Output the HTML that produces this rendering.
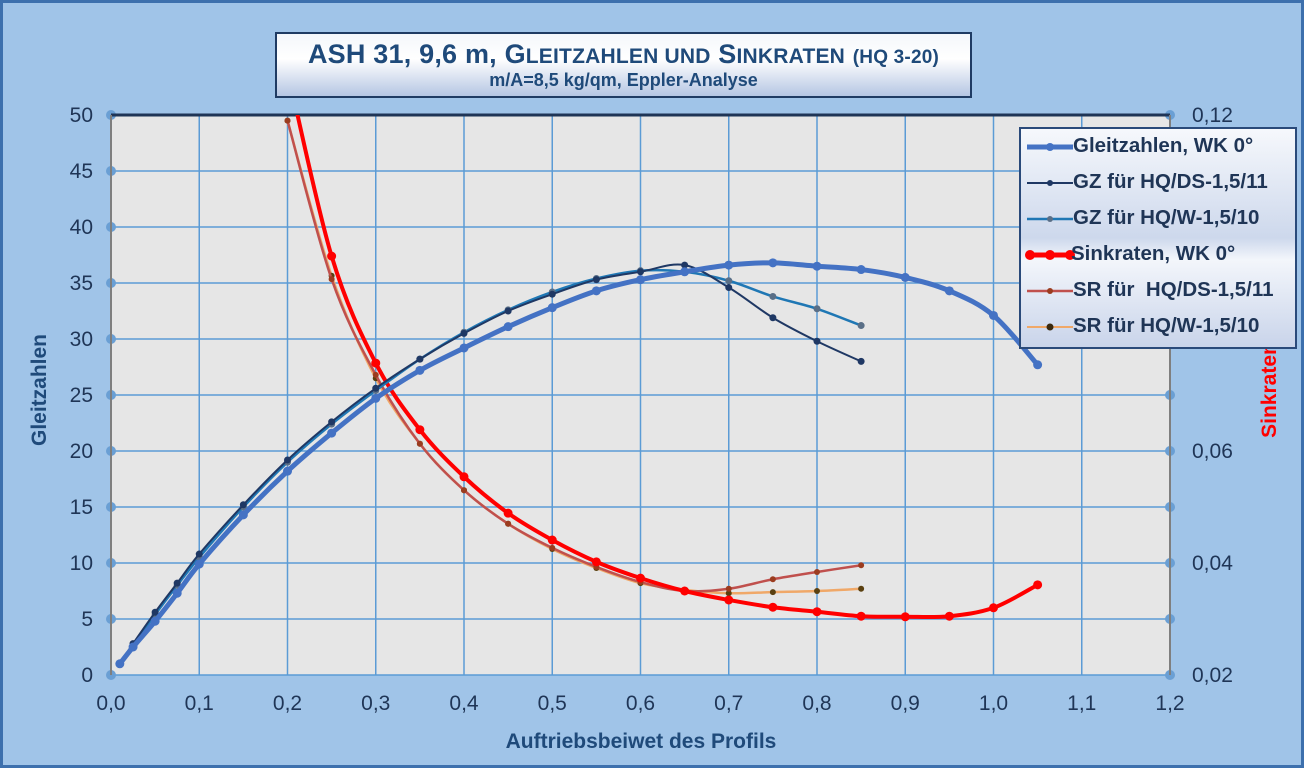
<!DOCTYPE html>
<html><head><meta charset="utf-8">
<style>
html,body{margin:0;padding:0;}
body{width:1304px;height:768px;overflow:hidden;background:#9fc3e7;font-family:"Liberation Sans",Arial,sans-serif;}
#frame{position:absolute;left:0;top:0;width:1298px;height:762px;border:3px solid #3d70ad;background:#a0c4e8;}
#title{position:absolute;left:275px;top:32px;width:693px;height:62px;border:2px solid #1f3b63;background:linear-gradient(#f4f7fb,#ffffff 40%,#b5c6e3);text-align:center;color:#1f4a7a;font-weight:bold;}
#legend{position:absolute;left:1019px;top:127px;width:274px;height:218px;border:2px solid #2a4a7a;background:linear-gradient(#f6f8fc,#cdd8ec 50%,#f3f6fb 60%,#c9d4ea);}
.li{position:absolute;left:0;height:36px;width:274px;}
.li span{position:absolute;left:52px;top:5px;font-size:20.5px;font-weight:bold;color:#1f3556;white-space:nowrap;}
</style></head><body>
<div id="frame"></div>
<div id="title">
<div style="font-size:27px;margin-top:5px;letter-spacing:0.2px;">ASH 31, 9,6 m, G<span style="font-size:21px">LEITZAHLEN UND</span> S<span style="font-size:21px">INKRATEN</span> <span style="font-size:19px">(HQ 3-20)</span></div>
<div style="font-size:18px;margin-top:0px;">m/A=8,5 kg/qm, Eppler-Analyse</div>
</div>
<svg id="chart" width="1304" height="768" style="position:absolute;left:0;top:0"></svg>
<div id="legend">
<svg width="274" height="218" style="position:absolute;left:0;top:0">
<line x1="6" y1="18" x2="52" y2="18" stroke="#4472c4" stroke-width="5"/><circle cx="29" cy="18" r="4" fill="#4472c4"/>
<line x1="6" y1="54" x2="52" y2="54" stroke="#1f3864" stroke-width="2"/><circle cx="29" cy="54" r="3" fill="#1f3864"/>
<line x1="6" y1="90" x2="52" y2="90" stroke="#1f77b4" stroke-width="2.5"/><circle cx="29" cy="90" r="3" fill="#5a6f87"/>
<line x1="6" y1="126" x2="52" y2="126" stroke="#ff0000" stroke-width="5"/><circle cx="9" cy="126" r="5" fill="#f00"/><circle cx="29" cy="126" r="5" fill="#f00"/><circle cx="49" cy="126" r="5" fill="#f00"/>
<line x1="6" y1="162" x2="52" y2="162" stroke="#c0504d" stroke-width="2.5"/><circle cx="29" cy="162" r="3" fill="#9b3c1f"/>
<line x1="6" y1="198" x2="52" y2="198" stroke="#f0a868" stroke-width="2"/><circle cx="29" cy="198" r="3.5" fill="#3a2a10"/>
</svg>
<div class="li" style="top:0"><span>Gleitzahlen, WK 0°</span></div>
<div class="li" style="top:36px"><span>GZ für HQ/DS-1,5/11</span></div>
<div class="li" style="top:72px"><span>GZ für HQ/W-1,5/10</span></div>
<div class="li" style="top:108px"><span style="left:50px">Sinkraten, WK 0°</span></div>
<div class="li" style="top:144px"><span>SR für &nbsp;HQ/DS-1,5/11</span></div>
<div class="li" style="top:180px"><span>SR für HQ/W-1,5/10</span></div>
</div>
<script>
const xTicks=[0,0.1,0.2,0.3,0.4,0.5,0.6,0.7,0.8,0.9,1.0,1.1,1.2];
const yTicks=[0,5,10,15,20,25,30,35,40,45,50];
const y2Labels=[0.02,0.04,0.06,0.08,0.10,0.12];
const xGZ=[0.01,0.025,0.05,0.075,0.1,0.15,0.2,0.25,0.3,0.35,0.4,0.45,0.5,0.55,0.6,0.65,0.7,0.75,0.8,0.85,0.9,0.95,1.0,1.05];
const gz=[1.0,2.5,4.8,7.3,9.9,14.3,18.2,21.6,24.7,27.2,29.2,31.1,32.8,34.3,35.3,36.0,36.6,36.8,36.5,36.2,35.5,34.3,32.1,27.7];
const xGZv=[0.01,0.025,0.05,0.075,0.1,0.15,0.2,0.25,0.3,0.35,0.4,0.45,0.5,0.55,0.6,0.65,0.7,0.75,0.8,0.85];
const gzDS=[1.0,2.8,5.6,8.2,10.8,15.2,19.2,22.6,25.6,28.2,30.5,32.5,34.0,35.3,36.0,36.6,34.6,31.9,29.8,28.0];
const gzW=[1.0,2.7,5.4,8.0,10.5,15.0,19.0,22.4,25.4,28.2,30.6,32.6,34.2,35.4,36.1,36.0,35.2,33.8,32.7,31.2];
const xSR=[0.2,0.25,0.3,0.35,0.4,0.45,0.5,0.55,0.6,0.65,0.7,0.75,0.8,0.85,0.9,0.95,1.0,1.05];
const sr=[0.128,0.0948,0.0757,0.0638,0.0554,0.0489,0.0441,0.0402,0.0373,0.035,0.0334,0.0321,0.0313,0.0305,0.0304,0.0305,0.032,0.0361];
const xSRv=[0.2,0.25,0.3,0.35,0.4,0.45,0.5,0.55,0.6,0.65,0.7,0.75,0.8,0.85];
const srDS=[0.119,0.0907,0.0736,0.0613,0.053,0.047,0.0427,0.0393,0.0366,0.035,0.0354,0.0371,0.0384,0.0396];
const srW=[0.119,0.0913,0.073,0.0613,0.053,0.047,0.0425,0.0391,0.0364,0.0352,0.0346,0.0348,0.035,0.0354];

const L=111,R=1170,T=115,B=675;
const X=v=>L+(v/1.2)*(R-L);
const Y=v=>B-(v/50)*(B-T);
const Y2=v=>B-((v-0.02)/0.10)*(B-T);
const svg=document.getElementById('chart');
const NS='http://www.w3.org/2000/svg';
function mk(t,a,p){const e=document.createElementNS(NS,t);for(const k in a)e.setAttribute(k,a[k]);(p||svg).appendChild(e);return e;}
const defs=mk('defs',{});
const cp=mk('clipPath',{id:'clip'},defs);mk('rect',{x:L,y:T,width:R-L,height:B-T},cp);
const bg=mk('rect',{x:L,y:T,width:R-L,height:B-T,fill:'#e6e6e6',stroke:'#7f8c99'});


xTicks.forEach(v=>{const l=mk('line',{x1:X(v),x2:X(v),y1:T,y2:B,stroke:'#5b9bd5','stroke-width':1.5});


const t=mk('text',{x:X(v),y:B+35,'text-anchor':'middle','font-size':21,fill:'#1f3556'});t.textContent=v.toFixed(1).replace('.',',');

});
yTicks.forEach(v=>{const l=mk('line',{x1:L,x2:R,y1:Y(v),y2:Y(v),stroke:'#5b9bd5','stroke-width':1.5});


mk('circle',{cx:L,cy:Y(v),r:5,fill:'#6a9fd4'});mk('circle',{cx:R,cy:Y(v),r:5,fill:'#6a9fd4'});
const t=mk('text',{x:L-18,y:Y(v)+7,'text-anchor':'end','font-size':21,fill:'#1f3556'});t.textContent=v;

});
y2Labels.forEach(v=>{const t=mk('text',{x:R+22,y:Y2(v)+7,'text-anchor':'start','font-size':21,fill:'#1f3556'});t.textContent=v.toFixed(2).replace('.',',');

});
mk('line',{x1:L,x2:R,y1:T,y2:T,stroke:'#1f3556','stroke-width':3});
mk('line',{x1:L,x2:L,y1:T,y2:B,stroke:'#7f7f7f','stroke-width':2});
mk('line',{x1:R,x2:R,y1:T,y2:B,stroke:'#7f7f7f','stroke-width':2});
const xt=mk('text',{x:641,y:748,'text-anchor':'middle','font-size':21,'font-weight':'bold',fill:'#1f4a7a'});xt.textContent='Auftriebsbeiwet des Profils';


const yt=mk('text',{x:46,y:390,'text-anchor':'middle','font-size':21,'font-weight':'bold',fill:'#1f4a7a',transform:'rotate(-90 46 390)'});yt.textContent='Gleitzahlen';


const y2t=mk('text',{x:1276,y:390,'text-anchor':'middle','font-size':21,'font-weight':'bold',fill:'#ff0000',transform:'rotate(-90 1276 390)'});y2t.textContent='Sinkraten';



function smooth(pts){let d='M'+pts[0][0]+','+pts[0][1];
for(let i=0;i<pts.length-1;i++){const p0=pts[i-1]||pts[i],p1=pts[i],p2=pts[i+1],p3=pts[i+2]||p2;
const c1=[p1[0]+(p2[0]-p0[0])/6,p1[1]+(p2[1]-p0[1])/6],c2=[p2[0]-(p3[0]-p1[0])/6,p2[1]-(p3[1]-p1[1])/6];
d+=' C'+c1+' '+c2+' '+p2;}return d;}
const g=mk('g',{'clip-path':'url(#clip)'});
function series(xs,ys,yf,color,w,mr,mc,name){
const pts=xs.map((x,i)=>[X(x),yf(ys[i])]);
const p=mk('path',{d:smooth(pts),fill:'none',stroke:color,'stroke-width':w,'stroke-linejoin':'round'},g);


pts.forEach(q=>{const c=mk('circle',{cx:q[0],cy:q[1],r:mr,fill:mc},g);

});}
series(xSRv,srW,Y2,'#f0a868',2.5,3,'#5a4010','sr-w');
series(xSRv,srDS,Y2,'#c0504d',2.5,3,'#9b3c1f','sr-ds');
series(xSR,sr,Y2,'#ff0000',4,4.5,'#ff0000','sinkraten');
series(xGZv,gzW,Y,'#1f77b4',2.5,3.5,'#5a6f87','gz-w');
series(xGZv,gzDS,Y,'#1f3864',2,3.5,'#1f3864','gz-ds');
series(xGZ,gz,Y,'#4472c4',5,4.5,'#4472c4','gleitzahlen');
</script>
</body></html>
